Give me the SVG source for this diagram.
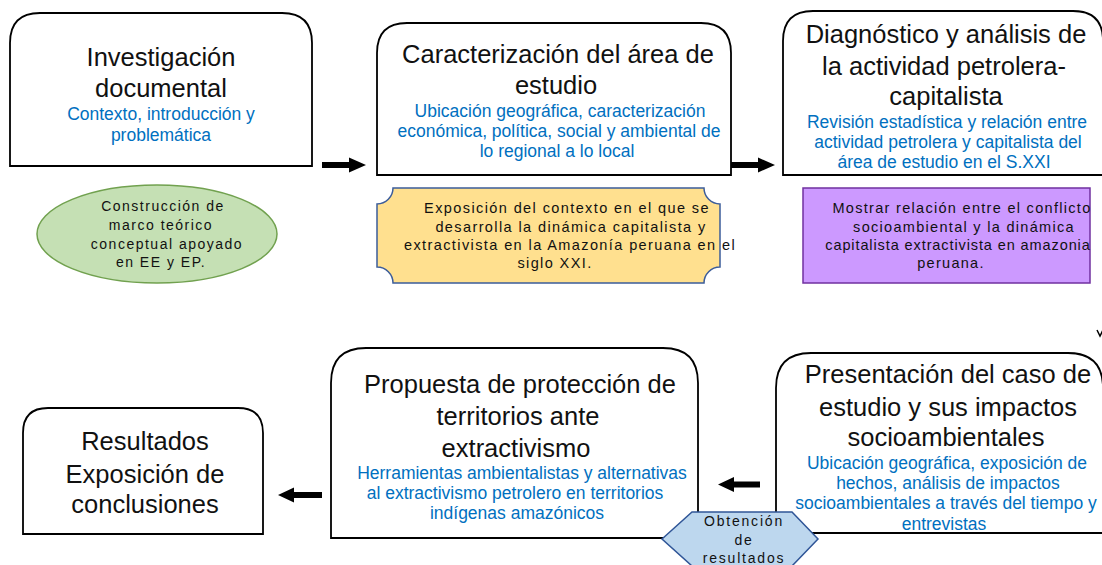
<svg xmlns="http://www.w3.org/2000/svg" width="1102" height="565" viewBox="0 0 1102 565">
<style>
.box{fill:#fff;stroke:#000;stroke-width:1.8}
.t{font-family:"Liberation Sans",Arial,sans-serif;font-size:25.5px;fill:#111;text-anchor:middle}
.b{font-family:"Liberation Sans",Arial,sans-serif;font-size:17.5px;fill:#0070C0;text-anchor:middle}
.s{font-family:"Liberation Sans",Arial,sans-serif;font-size:14.5px;fill:#111;text-anchor:middle;letter-spacing:1.4px}
.arr{fill:#000}
</style>
<rect width="1102" height="565" fill="#fff"/>

<g id="n1">
<path class="box" d="M10,166 V43 Q10,13 40,13 H282 Q312,13 312,43 V166 Z"/>
<text class="t" x="161" y="66">Investigación</text>
<text class="t" x="161" y="97">documental</text>
<text class="b" x="161" y="120">Contexto, introducción y</text>
<text class="b" x="161" y="141">problemática</text>
</g>

<g id="n1note">
<ellipse cx="157" cy="234" rx="120" ry="49" fill="#C5E0B4" stroke="#71A14F" stroke-width="1.5"/>
<text class="s" style="font-size:14px;letter-spacing:1.5px" x="163" y="211">Construcción de</text>
<text class="s" style="font-size:14px;letter-spacing:1.5px" x="161" y="230">marco teórico</text>
<text class="s" style="font-size:14px;letter-spacing:1.5px" x="167" y="249">conceptual apoyado</text>
<text class="s" style="font-size:14px;letter-spacing:1.5px" x="161" y="267">en EE y EP.</text>
</g>

<g id="n2">
<path class="box" d="M377,175 V53 Q377,23 407,23 H701 Q731,23 731,53 V175 Z"/>
<text class="t" x="558" y="63">Caracterización del área de</text>
<text class="t" x="556" y="94">estudio</text>
<text class="b" x="560" y="117">Ubicación geográfica, caracterización</text>
<text class="b" x="559" y="137">económica, política, social y ambiental de</text>
<text class="b" x="557" y="157">lo regional a lo local</text>
</g>

<g id="n2note">
<path d="M393,188 H704 A16,16 0 0 0 720,204 V267 A16,16 0 0 0 704,283 H393 A16,16 0 0 0 377,267 V204 A16,16 0 0 0 393,188 Z" fill="#FFE08F" stroke="#3B5C9A" stroke-width="1.5"/>
<text class="s" x="567" y="213">Exposición del contexto en el que se</text>
<text class="s" x="571" y="232">desarrolla la dinámica capitalista y</text>
<text class="s" x="570" y="250">extractivista en la Amazonía peruana en el</text>
<text class="s" x="555" y="268">siglo XXI.</text>
</g>

<g id="n3">
<path class="box" d="M783,175 V41 Q783,11 813,11 H1073 Q1103,11 1103,41 V175 Z"/>
<text class="t" x="946" y="43">Diagnóstico y análisis de</text>
<text class="t" x="944" y="75">la actividad petrolera-</text>
<text class="t" x="946" y="105">capitalista</text>
<text class="b" x="947" y="128">Revisión estadística y relación entre</text>
<text class="b" x="948" y="148">actividad petrolera y capitalista del</text>
<text class="b" x="944" y="168">área de estudio en el S.XXI</text>
</g>

<g id="n3note">
<rect x="803" y="188" width="287" height="95" fill="#CC99FF" stroke="#7030A0" stroke-width="1.5"/>
<text class="s" style="letter-spacing:1.3px" x="962" y="213">Mostrar relación entre el conflicto</text>
<text class="s" style="letter-spacing:1.3px" x="964" y="232">socioambiental y la dinámica</text>
<text class="s" style="letter-spacing:0.9px" x="958" y="250">capitalista extractivista en amazonia</text>
<text class="s" style="letter-spacing:1.3px" x="951" y="268">peruana.</text>
</g>

<g id="n4">
<path class="box" d="M776,533 V388 Q776,353 811,353 H1068 Q1103,353 1103,388 V533 Z"/>
<text class="t" x="948" y="383">Presentación del caso de</text>
<text class="t" x="948" y="416">estudio y sus impactos</text>
<text class="t" x="946" y="446">socioambientales</text>
<text class="b" x="947" y="469">Ubicación geográfica, exposición de</text>
<text class="b" x="948" y="489">hechos, análisis de impactos</text>
<text class="b" x="946" y="509">socioambientales a través del tiempo y</text>
<text class="b" x="944" y="530">entrevistas</text>
</g>

<g id="n5">
<path class="box" d="M331,538 V383 Q331,348 366,348 H663 Q698,348 698,383 V538 Z"/>
<text class="t" x="520" y="393">Propuesta de protección de</text>
<text class="t" x="518" y="425">territorios ante</text>
<text class="t" x="516" y="457">extractivismo</text>
<text class="b" x="522" y="479">Herramientas ambientalistas y alternativas</text>
<text class="b" x="515" y="499">al extractivismo petrolero en territorios</text>
<text class="b" x="517" y="519">indígenas amazónicos</text>
</g>

<g id="n6">
<path class="box" d="M23,534 V433 Q23,408 48,408 H238 Q263,408 263,433 V534 Z"/>
<text class="t" x="145" y="450">Resultados</text>
<text class="t" x="145" y="483">Exposición de</text>
<text class="t" x="145" y="513">conclusiones</text>
</g>

<g id="n7">
<polygon points="662,539 692,512 792,512 818,539 792,566 692,566" fill="#BDD7EE" stroke="#2F5597" stroke-width="1.5"/>
<text class="s" style="font-size:14px;letter-spacing:1.8px" x="744" y="526">Obtención</text>
<text class="s" style="font-size:14px;letter-spacing:1.8px" x="744" y="545">de</text>
<text class="s" style="font-size:14px;letter-spacing:1.8px" x="744" y="563">resultados</text>
</g>

<g id="connectors">
<polygon class="arr" points="322,162 349,162 349,157.5 366,165 349,172.5 349,168 322,168"/>
<polygon class="arr" points="731,162 758,162 758,157.5 775,165 758,172.5 758,168 731,168"/>
<polygon class="arr" points="760,481.5 734,481.5 734,477 718,484.5 734,492 734,487.5 760,487.5"/>
<polygon class="arr" points="322,492 294,492 294,487.5 278,495 294,502.5 294,498 322,498"/>
<path d="M1097,330 L1100,336 L1103,330" fill="none" stroke="#000" stroke-width="1.5"/>
</g>
</svg>
